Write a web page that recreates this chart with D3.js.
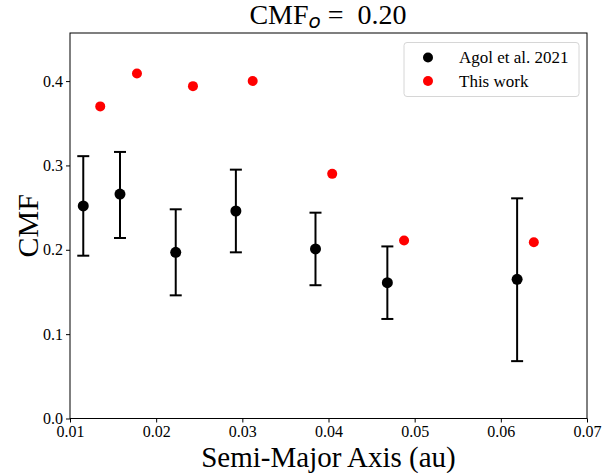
<!DOCTYPE html>
<html>
<head>
<meta charset="utf-8">
<script src="https://cdn.jsdelivr.net/npm/d3@7"></script>
<style>
  body { margin: 0; background: #fff; }
  svg text { font-family: "Liberation Serif", "Times New Roman", serif; }
</style>
</head>
<body>
<div id="chart"></div>
<script>
// Agol et al. 2021 (TRAPPIST-1 b..h)
const agolA = [0.01154, 0.01580, 0.02227, 0.02925, 0.03849, 0.04683, 0.06189];
const agolCMF = [0.252, 0.266, 0.197, 0.246, 0.201, 0.161, 0.165];
const agolLo = [0.193, 0.214, 0.146, 0.197, 0.158, 0.118, 0.068];
const agolHi = [0.311, 0.316, 0.248, 0.295, 0.244, 0.204, 0.261];

// This work
const workA = [0.01351, 0.01777, 0.02427, 0.03120, 0.04043, 0.04877, 0.06383];
const workCMF = [0.370, 0.409, 0.394, 0.400, 0.290, 0.211, 0.209];

const xTicks = [0.01, 0.02, 0.03, 0.04, 0.05, 0.06, 0.07];
const yTicks = [0.0, 0.1, 0.2, 0.3, 0.4];
const legendLabels = ["Agol et al. 2021", "This work"];
const legendColors = ["black", "red"];

const serif = "'Liberation Serif', 'Times New Roman', serif";
const width = 602, height = 473;
const margin = { top: 33, left: 70 };
const innerW = 587 - margin.left;
const innerH = 418.5 - margin.top;

const svg = d3.select("#chart").append("svg")
  .attr("width", width)
  .attr("height", height)
  .attr("font-family", serif);

const bounds = svg.append("g")
  .attr("transform", `translate(${margin.left},${margin.top})`);

const xScale = d3.scaleLinear().domain([0.01, 0.07]).range([0, innerW]);
const yScale = d3.scaleLinear().domain([0, 0.457]).range([innerH, 0]);

// axes
const xAxis = bounds.append("g")
  .attr("transform", `translate(0,${innerH})`)
  .call(d3.axisBottom(xScale).tickValues(xTicks).tickFormat(d3.format(".2f")).tickSizeOuter(0).tickSize(4).tickPadding(3));
const yAxis = bounds.append("g")
  .call(d3.axisLeft(yScale).tickValues(yTicks).tickFormat(d3.format(".1f")).tickSizeOuter(0).tickSize(4).tickPadding(3));

[xAxis, yAxis].forEach((ax) => {
  ax.attr("font-family", serif).attr("font-size", 16);
  ax.select(".domain").remove();
  ax.selectAll("text").attr("fill", "#000");
  ax.selectAll("line").attr("stroke", "#000").attr("stroke-width", 1);
});

// frame
bounds.append("rect")
  .attr("width", innerW)
  .attr("height", innerH)
  .attr("fill", "none")
  .attr("stroke", "#000")
  .attr("stroke-width", 1);

// error bars
const capW = 6;
const errG = bounds.append("g");
agolA.forEach((a, i) => {
  const x = xScale(a);
  errG.append("line")
    .attr("x1", x).attr("x2", x)
    .attr("y1", yScale(agolLo[i])).attr("y2", yScale(agolHi[i]))
    .attr("stroke", "#000").attr("stroke-width", 2);
  [agolLo[i], agolHi[i]].forEach((v) => {
    errG.append("line")
      .attr("x1", x - capW).attr("x2", x + capW)
      .attr("y1", yScale(v)).attr("y2", yScale(v))
      .attr("stroke", "#000").attr("stroke-width", 2);
  });
});

bounds.append("g").selectAll("circle")
  .data(agolA)
  .join("circle")
  .attr("cx", (d) => xScale(d))
  .attr("cy", (d, i) => yScale(agolCMF[i]))
  .attr("r", 5.5)
  .attr("fill", "black");

bounds.append("g").selectAll("circle")
  .data(workA)
  .join("circle")
  .attr("cx", (d) => xScale(d))
  .attr("cy", (d, i) => yScale(workCMF[i]))
  .attr("r", 5)
  .attr("fill", "red");

// legend
const legend = svg.append("g").attr("transform", "translate(404,42.5)");
legend.append("rect")
  .attr("width", 175)
  .attr("height", 54)
  .attr("rx", 3)
  .attr("fill", "#fff")
  .attr("stroke", "#d6d6d6")
  .attr("stroke-width", 1);
legendLabels.forEach((lab, i) => {
  legend.append("circle")
    .attr("cx", 24)
    .attr("cy", 15 + i * 23.5)
    .attr("r", 5)
    .attr("fill", legendColors[i]);
  legend.append("text")
    .attr("x", 55)
    .attr("y", 15 + i * 23.5)
    .attr("dy", "0.35em")
    .attr("font-family", serif)
    .attr("font-size", 17)
    .text(lab);
});

// title
const title = svg.append("text")
  .attr("x", 328)
  .attr("y", 24)
  .attr("text-anchor", "middle")
  .attr("font-family", serif)
  .attr("font-size", 28);
title.append("tspan").text("CMF");
title.append("tspan")
  .attr("dy", 4)
  .attr("font-family", "'DejaVu Sans', sans-serif")
  .attr("font-style", "italic")
  .attr("font-size", 20)
  .text("o");
title.append("tspan").attr("dy", -4).text("\u00a0=\u00a0\u00a00.20");

// axis labels
svg.append("text")
  .attr("x", margin.left + innerW / 2)
  .attr("y", 467)
  .attr("text-anchor", "middle")
  .attr("font-family", serif)
  .attr("font-size", 29)
  .text("Semi-Major Axis (au)");

svg.append("text")
  .attr("transform", `translate(38,${margin.top + innerH / 2}) rotate(-90)`)
  .attr("text-anchor", "middle")
  .attr("font-family", serif)
  .attr("font-size", 30)
  .text("CMF");
</script>
</body>
</html>
